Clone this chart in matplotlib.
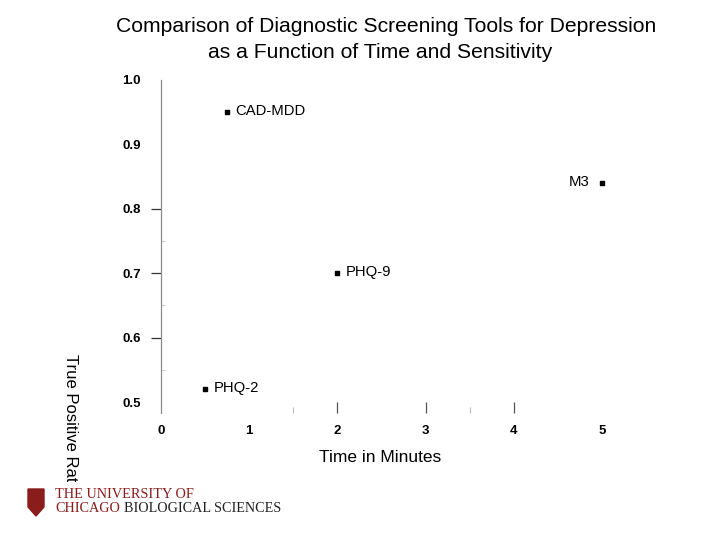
import matplotlib
matplotlib.use("Agg")
import matplotlib.pyplot as plt
from matplotlib.patches import Polygon
from matplotlib.transforms import Bbox

plt.rcParams['font.family'] = ['Liberation Sans', 'DejaVu Sans']

# screening tools: time (minutes) vs true positive rate
tools = ['CAD-MDD', 'PHQ-9', 'M3', 'PHQ-2']
minutes = [0.75, 2.0, 5.0, 0.5]
tpr = [0.95, 0.70, 0.84, 0.52]
label_side = ['right', 'right', 'left', 'right']

x_ticks = [0, 1, 2, 3, 4, 5]
y_ticks = [0.5, 0.6, 0.7, 0.8, 0.9, 1.0]

W, H = 720, 540
fig = plt.figure(figsize=(7.2, 5.4), dpi=100)
ax = fig.add_axes([161 / W, 1 - 413 / H, (602 - 161) / W, (413 - 80) / H])
ax.set_xlim(0, 5)
ax.set_ylim(0.483, 1.0)
ax.xaxis.remove_overlapping_locs = False
ax.yaxis.remove_overlapping_locs = False

for s in ['top', 'right', 'bottom']:
    ax.spines[s].set_visible(False)
ax.spines['left'].set_color('#8c8c8c')
ax.spines['left'].set_linewidth(0.9)

ax.set_xticks(x_ticks)
ax.set_xticklabels([str(v) for v in x_ticks], fontsize=9.5, fontweight='bold')
ax.tick_params(axis='x', length=0, pad=9)
ax.set_xticks([2, 3, 4], minor=True)
ax.tick_params(axis='x', which='minor', direction='in', length=8, width=0.9, color='#555555')

ax.set_yticks(y_ticks)
ax.set_yticklabels(['%.1f' % v for v in y_ticks], fontsize=9.5, fontweight='bold')
ax.tick_params(axis='y', length=0, pad=14.5)
ax.set_yticks([0.6, 0.7, 0.8], minor=True)
ax.tick_params(axis='y', which='minor', direction='out', length=7, width=0.9, color='#333333')

# faint extra ticks
sx = ax.secondary_xaxis('bottom')
sx.set_xticks([1.5, 3.5])
sx.set_xticklabels(['', ''])
sx.tick_params(direction='in', length=4, width=0.8, color='#bbbbbb')
sx.spines['bottom'].set_visible(False)
sy = ax.secondary_yaxis('left')
sy.set_yticks([0.55, 0.65, 0.75])
sy.set_yticklabels(['', '', ''])
sy.tick_params(direction='in', length=3, width=0.8, color='#cccccc')
sy.spines['left'].set_visible(False)

ax.scatter(minutes, tpr, marker='s', s=10, color='black', clip_on=False, zorder=3)
for name, x, y, side in zip(tools, minutes, tpr, label_side):
    if side == 'right':
        ax.annotate(name, (x, y), xytext=(6, 1), textcoords='offset points',
                    ha='left', va='center', fontsize=10.7)
    else:
        ax.annotate(name, (x, y), xytext=(-9, 1), textcoords='offset points',
                    ha='right', va='center', fontsize=10.7)

fig.text(386 / W, 1 - 26 / H, 'Comparison of Diagnostic Screening Tools for Depression',
         ha='center', va='center', fontsize=15.2)
fig.text(380 / W, 1 - 53 / H, 'as a Function of Time and Sensitivity',
         ha='center', va='center', fontsize=15.2)
fig.text(380 / W, 1 - 458 / H, 'Time in Minutes', ha='center', va='center', fontsize=12.5)

yl = fig.text(70 / W, 1 - 354 / H, 'True Positive Rate', ha='center', va='top',
              rotation=-90, fontsize=12)
yl.set_clip_box(Bbox([[0, 540 - 482], [W, H]]))
yl.set_clip_on(True)

# logo
maroon = '#8a1c1c'
shield = Polygon([[28 / W, 1 - 489 / H], [44 / W, 1 - 489 / H], [44 / W, 1 - 507 / H],
                  [36 / W, 1 - 516 / H], [28 / W, 1 - 507 / H]],
                 closed=True, transform=fig.transFigure, color=maroon)
fig.patches.append(shield)
fig.text(55 / W, 1 - 494 / H, 'THE UNIVERSITY OF', family='Liberation Serif',
         fontsize=10.3, color=maroon, va='center', ha='left')
t1 = fig.text(55 / W, 1 - 509 / H, 'CHICAGO', family='Liberation Serif',
              fontsize=10.2, color=maroon, va='center', ha='left')
fig.canvas.draw()
bb = t1.get_window_extent()
fig.text(bb.x1 / W + 4 / W, 1 - 509 / H, 'BIOLOGICAL SCIENCES', family='Liberation Serif',
         fontsize=10.2, color='#222222', va='center', ha='left')

fig.savefig('out.png', dpi=100)
